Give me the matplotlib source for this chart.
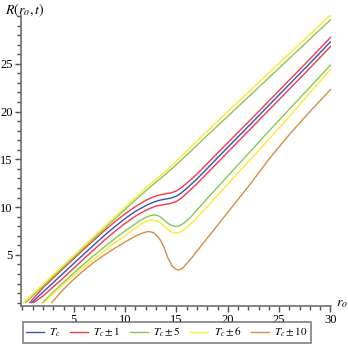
import matplotlib
matplotlib.use("Agg")
import matplotlib.pyplot as plt
from matplotlib.ticker import MultipleLocator

plt.rcParams['mathtext.fontset'] = 'stix'
plt.rcParams['font.family'] = ['Liberation Serif', 'DejaVu Serif']

# T_c (blue)
r_tc = [0.9, 2, 4, 6, 8, 9, 10, 11, 12, 12.5, 13, 13.5, 14, 14.5, 15, 15.5, 16, 17, 18, 20, 22, 24, 26, 28, 30]
R_tc = [0.0, 1.1, 3.1, 5.1, 7.05, 7.95, 8.8, 9.55, 10.15, 10.4, 10.6, 10.75, 10.85, 10.95, 11.15, 11.5, 11.95, 12.95, 14.05, 16.25, 18.45, 20.65, 22.85, 25.05, 27.3]

# T_c + 1 / T_c - 1 (red)
r_p1 = [0.7, 2, 4, 6, 8, 9, 10, 11, 12, 12.5, 13, 13.5, 14, 14.5, 15, 15.5, 16, 17, 18, 20, 22, 24, 26, 28, 30]
R_p1 = [0.0, 1.55, 3.6, 5.6, 7.55, 8.45, 9.3, 10.05, 10.7, 10.95, 11.15, 11.3, 11.4, 11.5, 11.7, 12.05, 12.5, 13.45, 14.55, 16.75, 18.9, 21.1, 23.3, 25.5, 27.75]
r_m1 = [1.1, 2, 4, 6, 8, 9, 10, 11, 12, 12.5, 13, 13.5, 14, 14.5, 15, 15.5, 16, 17, 18, 20, 22, 24, 26, 28, 30]
R_m1 = [0.0, 0.7, 2.6, 4.6, 6.55, 7.45, 8.3, 9.05, 9.65, 9.9, 10.1, 10.2, 10.3, 10.4, 10.6, 10.95, 11.45, 12.45, 13.55, 15.75, 17.95, 20.15, 22.35, 24.55, 26.8]

# T_c + 5 / T_c - 5 (green)
r_p5 = [0.3, 5, 10, 12, 13, 14, 15, 16, 18, 20, 25, 30]
R_p5 = [0.0, 4.75, 9.75, 11.7, 12.6, 13.5, 14.45, 15.45, 17.5, 19.5, 24.55, 29.6]
r_m5 = [1.95, 3, 4, 5, 6, 7, 8, 9, 10, 11, 11.5, 12, 12.5, 12.9, 13.3, 13.7, 14.1, 14.5, 14.9, 15.3, 15.7, 16.3, 17, 18, 20, 22, 24, 26, 28, 30]
R_m5 = [0.0, 1.1, 2.12, 3.1, 4.05, 4.97, 5.85, 6.7, 7.5, 8.25, 8.62, 8.92, 9.12, 9.18, 9.05, 8.75, 8.35, 8.08, 7.96, 8.05, 8.3, 8.84, 9.7, 10.9, 13.25, 15.6, 17.95, 20.25, 22.55, 24.86]

# T_c + 6 / T_c - 6 (yellow)
r_p6 = [0.1, 5, 10, 12, 13, 14, 15, 16, 18, 20, 25, 30]
R_p6 = [0.0, 4.95, 10.0, 12.0, 12.9, 13.8, 14.8, 15.85, 17.95, 20.0, 25.05, 30.1]
r_m6 = [2.1, 3, 4, 5, 6, 7, 8, 9, 10, 11, 11.5, 12, 12.6, 13.0, 13.5, 14, 14.5, 15, 15.5, 16, 16.5, 17, 18, 20, 22, 24, 26, 28, 30]
R_m6 = [0.0, 0.95, 1.92, 2.85, 3.75, 4.6, 5.45, 6.25, 7.0, 7.78, 8.18, 8.48, 8.66, 8.6, 8.3, 7.8, 7.4, 7.27, 7.45, 7.85, 8.35, 8.9, 10.05, 12.4, 14.75, 17.1, 19.5, 21.95, 24.4]

# T_c - 10 (orange)
r_m10 = [2.85, 3.3, 4, 5, 6, 7, 8, 9, 10, 10.5, 11, 11.5, 12, 12.3, 12.7, 13, 13.4, 13.8, 14.2, 14.6, 15.0, 15.2, 15.6, 16, 16.5, 17, 18, 19, 20, 22, 24, 26, 28, 30]
R_m10 = [0.0, 0.55, 1.4, 2.45, 3.4, 4.25, 5.0, 5.7, 6.35, 6.65, 6.95, 7.2, 7.38, 7.44, 7.35, 7.12, 6.6, 5.75, 4.6, 3.8, 3.45, 3.42, 3.6, 4.1, 4.7, 5.4, 6.75, 8.1, 9.45, 12.15, 15.0, 17.6, 20.0, 22.3]

labels = [r'$T_c$', r'$T_c\pm1$', r'$T_c\pm5$', r'$T_c\pm6$', r'$T_c\pm10$']
colors = ['#3c50b4', '#f03c46', '#84c85a', '#ffe830', '#d88c46']

x_ticks = [5, 10, 15, 20, 25, 30]
y_ticks = [5, 10, 15, 20, 25]

fig = plt.figure(figsize=(3.48, 3.47), dpi=100)
ax = fig.add_axes([21/348, 1 - 305.5/347, 310/348, 290.5/347])

lw = 1.0
h_tc, = ax.plot(r_tc, R_tc, color=colors[0], lw=lw)
h_1, = ax.plot(r_p1, R_p1, color=colors[1], lw=lw)
ax.plot(r_m1, R_m1, color=colors[1], lw=lw)
h_5, = ax.plot(r_p5, R_p5, color=colors[2], lw=lw)
ax.plot(r_m5, R_m5, color=colors[2], lw=lw)
h_6, = ax.plot(r_p6, R_p6, color=colors[3], lw=lw)
ax.plot(r_m6, R_m6, color=colors[3], lw=lw)
h_10, = ax.plot(r_m10, R_m10, color=colors[4], lw=lw)

ax.set_xlim(-0.14, 30.05)
ax.set_ylim(-0.3, 30.1)
for s in ['top', 'right']:
    ax.spines[s].set_visible(False)
for s in ['left', 'bottom']:
    ax.spines[s].set_color('#707070')
    ax.spines[s].set_linewidth(1.2)

ax.set_xticks(x_ticks)
ax.set_yticks(y_ticks)
ax.xaxis.set_minor_locator(MultipleLocator(1))
ax.yaxis.set_minor_locator(MultipleLocator(1))
ax.tick_params(which='major', length=4, width=1, color='#505050', labelsize=9, pad=2)
ax.tick_params(which='minor', length=3, width=1, color='#505050')

fig.text(5/348, 1 - 2/347, r'$R(r_o,t)$', fontsize=10, ha='left', va='top')
fig.text(336/348, 1 - 303/347, r'$r_o$', fontsize=10, ha='left', va='center')

leg = fig.legend([h_tc, h_1, h_5, h_6, h_10], labels, loc='lower left',
                 bbox_to_anchor=(22.5/348, 4.5/347, 289/348, 17/347), mode='expand',
                 ncol=5, fontsize=8, frameon=True, fancybox=False, handlelength=1.6,
                 handletextpad=0.5, columnspacing=0.5, borderpad=0.3, borderaxespad=0)
leg.get_frame().set_edgecolor('#606060')
leg.get_frame().set_linewidth(1.2)

fig.savefig('out.png', dpi=100)
